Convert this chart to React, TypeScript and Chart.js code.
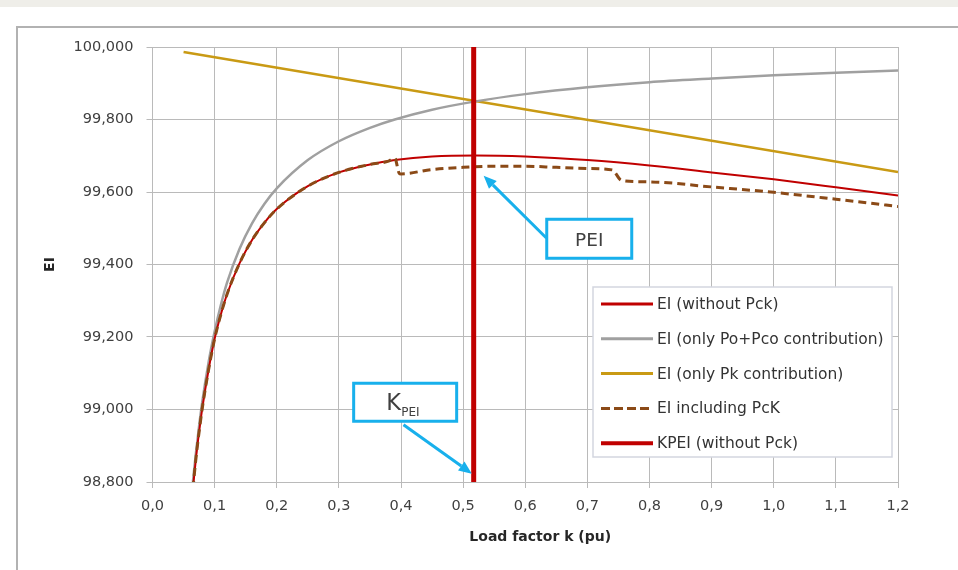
import React, { useEffect, useRef } from 'react';
import { Chart, registerables } from 'chart.js';

Chart.register(...registerables);

// ---- data ----
const kMain = [0.065, 0.07, 0.075, 0.08, 0.09, 0.1, 0.11, 0.12, 0.14, 0.16, 0.18, 0.2, 0.25, 0.3, 0.35, 0.39, 0.45, 0.52, 0.6, 0.7, 0.8, 0.9, 1.0, 1.1, 1.2];
const eiWithoutPck = [98.781, 98.866, 98.938, 99.002, 99.107, 99.195, 99.262, 99.318, 99.403, 99.467, 99.515, 99.553, 99.616, 99.654, 99.676, 99.688, 99.698, 99.701, 99.698, 99.688, 99.673, 99.654, 99.635, 99.613, 99.590];
const eiPoPco = [98.800, 98.882, 98.955, 99.020, 99.128, 99.215, 99.288, 99.350, 99.443, 99.513, 99.567, 99.610, 99.688, 99.740, 99.777, 99.800, 99.827, 99.850, 99.870, 99.889, 99.903, 99.913, 99.922, 99.929, 99.935];
const kPk = [0.05, 1.2];
const eiPk = [99.986, 99.655];
const kPcK = [0.065, 0.07, 0.075, 0.08, 0.09, 0.1, 0.11, 0.12, 0.14, 0.16, 0.18, 0.2, 0.25, 0.3, 0.35, 0.38, 0.39, 0.397, 0.4, 0.45, 0.5, 0.55, 0.6, 0.65, 0.7, 0.74, 0.755, 0.8, 0.9, 1.0, 1.1, 1.2];
const eiPcK = [98.781, 98.866, 98.938, 99.002, 99.107, 99.195, 99.262, 99.318, 99.403, 99.467, 99.515, 99.553, 99.616, 99.654, 99.676, 99.685, 99.694, 99.652, 99.650, 99.662, 99.668, 99.671, 99.671, 99.668, 99.665, 99.661, 99.632, 99.628, 99.614, 99.599, 99.580, 99.560];
const kPEI = 0.517;
const kpeiRange = [98.8, 100];

const xMin = 0, xMax = 1.2, xStep = 0.1;
const yMin = 98.8, yMax = 100, yStep = 0.2;

const legendLabels = ['EI (without Pck)', 'EI (only Po+Pco contribution)', 'EI (only Pk contribution)', 'EI including PcK', 'KPEI (without Pck)'];
const xTitle = 'Load factor k (pu)';
const yTitle = 'EI';

// annotation anchors in data units
const peiBox = { k: 0.703, v: 99.471, text: 'PEI' };
const peiArrow = { from: [0.634, 99.473], to: [0.533, 99.645] };
const kpeiBox = { k: 0.4067, v: 99.020, main: 'K', sub: 'PEI' };
const kpeiArrow = { from: [0.404, 98.958], to: [0.514, 98.823] };

const COLORS = {
  red: '#C00000',
  gray: '#A0A0A0',
  gold: '#C99A14',
  brown: '#8B4A17',
  grid: '#BABABA',
  cyan: '#18B0EC',
  text: '#404040',
};
const FONT = '"DejaVu Sans", sans-serif';

const toXY = (ks: number[], vs: number[]) => ks.map((k, i) => ({ x: k, y: vs[i] }));

function drawArrow(ctx: CanvasRenderingContext2D, x1: number, y1: number, x2: number, y2: number) {
  const ang = Math.atan2(y2 - y1, x2 - x1);
  const headLen = 13, headW = 5.5;
  const bx = x2 - headLen * Math.cos(ang), by = y2 - headLen * Math.sin(ang);
  ctx.save();
  ctx.strokeStyle = COLORS.cyan;
  ctx.fillStyle = COLORS.cyan;
  ctx.lineWidth = 3;
  ctx.beginPath();
  ctx.moveTo(x1, y1);
  ctx.lineTo(bx, by);
  ctx.stroke();
  ctx.beginPath();
  ctx.moveTo(x2, y2);
  ctx.lineTo(bx + headW * Math.sin(ang), by - headW * Math.cos(ang));
  ctx.lineTo(bx - headW * Math.sin(ang), by + headW * Math.cos(ang));
  ctx.closePath();
  ctx.fill();
  ctx.restore();
}

const overlayPlugin = {
  id: 'overlay',
  afterDatasetsDraw(chart: any) {
    const { ctx, scales, chartArea } = chart;
    const xs = scales.x, ys = scales.y;
    const px = (k: number) => xs.getPixelForValue(k);
    const py = (v: number) => ys.getPixelForValue(v);

    // PEI box
    ctx.save();
    let cx = px(peiBox.k), cy = py(peiBox.v);
    const bw = 85, bh = 39;
    ctx.fillStyle = '#fff';
    ctx.fillRect(cx - bw / 2, cy - bh / 2, bw, bh);
    ctx.strokeStyle = COLORS.cyan;
    ctx.lineWidth = 3;
    ctx.strokeRect(cx - bw / 2, cy - bh / 2, bw, bh);
    ctx.fillStyle = COLORS.text;
    ctx.font = `18.5px ${FONT}`;
    ctx.textAlign = 'center';
    ctx.textBaseline = 'alphabetic';
    ctx.fillText(peiBox.text, cx, cy + 7);
    ctx.restore();
    drawArrow(ctx, px(peiArrow.from[0]), py(peiArrow.from[1]), px(peiArrow.to[0]), py(peiArrow.to[1]));

    // KPEI box
    ctx.save();
    cx = px(kpeiBox.k); cy = py(kpeiBox.v);
    const kw = 103, kh = 38;
    ctx.fillStyle = '#fff';
    ctx.fillRect(cx - kw / 2, cy - kh / 2, kw, kh);
    ctx.strokeStyle = COLORS.cyan;
    ctx.lineWidth = 3;
    ctx.strokeRect(cx - kw / 2, cy - kh / 2, kw, kh);
    ctx.fillStyle = COLORS.text;
    ctx.textBaseline = 'alphabetic';
    ctx.textAlign = 'left';
    ctx.font = `22.5px ${FONT}`;
    ctx.fillText(kpeiBox.main, cx - 19, cy + 8);
    ctx.font = `12px ${FONT}`;
    ctx.fillText(kpeiBox.sub, cx - 4, cy + 14);
    ctx.restore();
    drawArrow(ctx, px(kpeiArrow.from[0]), py(kpeiArrow.from[1]), px(kpeiArrow.to[0]), py(kpeiArrow.to[1]));

    // x axis title
    ctx.save();
    ctx.fillStyle = '#262626';
    ctx.font = `bold 14px ${FONT}`;
    ctx.textAlign = 'center';
    ctx.textBaseline = 'middle';
    ctx.fillText(xTitle, (chartArea.left + chartArea.right) / 2 + 15, chartArea.bottom + 55);
    ctx.restore();
  },
  afterDraw(chart: any) {
    const { ctx, chartArea } = chart;
    const lx = chartArea.right - 305, ly = chartArea.top + 240;
    const lw = 299, lh = 170;
    ctx.save();
    ctx.fillStyle = '#fff';
    ctx.fillRect(lx, ly, lw, lh);
    ctx.strokeStyle = '#D3D6DF';
    ctx.lineWidth = 1.5;
    ctx.strokeRect(lx, ly, lw, lh);
    const styles = [
      { c: COLORS.red, w: 3, d: [] as number[] },
      { c: COLORS.gray, w: 3, d: [] as number[] },
      { c: COLORS.gold, w: 3, d: [] as number[] },
      { c: COLORS.brown, w: 3, d: [9, 4] },
      { c: COLORS.red, w: 4, d: [] as number[] },
    ];
    ctx.font = `15.5px ${FONT}`;
    ctx.textBaseline = 'middle';
    ctx.textAlign = 'left';
    legendLabels.forEach((lab, i) => {
      const yy = ly + 17 + i * 34.8;
      const s = styles[i];
      ctx.beginPath();
      ctx.setLineDash(s.d);
      ctx.strokeStyle = s.c;
      ctx.lineWidth = s.w;
      ctx.moveTo(lx + 8, yy);
      ctx.lineTo(lx + 60, yy);
      ctx.stroke();
      ctx.setLineDash([]);
      ctx.fillStyle = '#333333';
      ctx.fillText(lab, lx + 64, yy + 1);
    });
    ctx.restore();
  },
};

export default function App() {
  const ref = useRef<HTMLCanvasElement | null>(null);
  useEffect(() => {
    if (!ref.current) return;
    const chart = new Chart(ref.current, {
      type: 'line',
      data: {
        datasets: [
          {
            label: legendLabels[4],
            data: [{ x: kPEI, y: kpeiRange[0] }, { x: kPEI, y: kpeiRange[1] }],
            borderColor: COLORS.red, borderWidth: 5, pointRadius: 0, order: 0,
          },
          {
            label: legendLabels[3],
            data: toXY(kPcK, eiPcK),
            borderColor: COLORS.brown, borderWidth: 3, borderDash: [8, 5], pointRadius: 0,
            cubicInterpolationMode: 'monotone', order: 1,
          },
          {
            label: legendLabels[0],
            data: toXY(kMain, eiWithoutPck),
            borderColor: COLORS.red, borderWidth: 2, pointRadius: 0,
            cubicInterpolationMode: 'monotone', order: 2,
          },
          {
            label: legendLabels[1],
            data: toXY(kMain, eiPoPco),
            borderColor: COLORS.gray, borderWidth: 2.5, pointRadius: 0,
            cubicInterpolationMode: 'monotone', order: 3,
          },
          {
            label: legendLabels[2],
            data: toXY(kPk, eiPk),
            borderColor: COLORS.gold, borderWidth: 2.5, pointRadius: 0, order: 4,
          },
        ],
      },
      options: {
        responsive: false,
        animation: false,
        devicePixelRatio: 1,
        layout: { padding: { left: 40, right: 60, top: 47, bottom: 20 } },
        plugins: { legend: { display: false }, tooltip: { enabled: false } },
        scales: {
          x: {
            type: 'linear',
            min: xMin, max: xMax,
            afterFit: (s: any) => { s.height = 68; },
            ticks: {
              stepSize: xStep,
              padding: 10,
              color: '#404040',
              font: { family: FONT, size: 14.5 },
              callback: (v: any) => Number(v).toFixed(1).replace('.', ','),
            },
            grid: { color: COLORS.grid, lineWidth: 1, tickLength: 6 },
            border: { color: COLORS.grid, width: 1 },
          },
          y: {
            type: 'linear',
            min: yMin, max: yMax,
            afterFit: (s: any) => { s.width = 112.5; },
            ticks: {
              stepSize: yStep,
              padding: 13,
              color: '#404040',
              font: { family: FONT, size: 14.5 },
              callback: (v: any) => Number(v).toFixed(3).replace('.', ','),
            },
            grid: { color: COLORS.grid, lineWidth: 1, tickLength: 6 },
            border: { color: COLORS.grid, width: 1 },
            title: {
              display: true, text: yTitle, color: '#262626',
              font: { family: FONT, size: 14, weight: 'bold' },
              padding: { top: 2, bottom: 0 },
            },
          },
        },
      } as any,
      plugins: [overlayPlugin],
    });
    return () => chart.destroy();
  }, []);

  return (
    <div style={{ position: 'absolute', left: 0, top: 0, width: 958, height: 570, background: '#fff', overflow: 'hidden' }}>
      <div style={{ position: 'absolute', left: 0, top: 0, width: 958, height: 7, background: '#EFEEE9' }} />
      <div style={{ position: 'absolute', left: 16, top: 26, width: 1000, height: 600, borderLeft: '2px solid #B2B2B2', borderTop: '2px solid #B2B2B2' }} />
      <canvas ref={ref} width={958} height={570} style={{ position: 'absolute', left: 0, top: 0, width: 958, height: 570 }} />
    </div>
  );
}
